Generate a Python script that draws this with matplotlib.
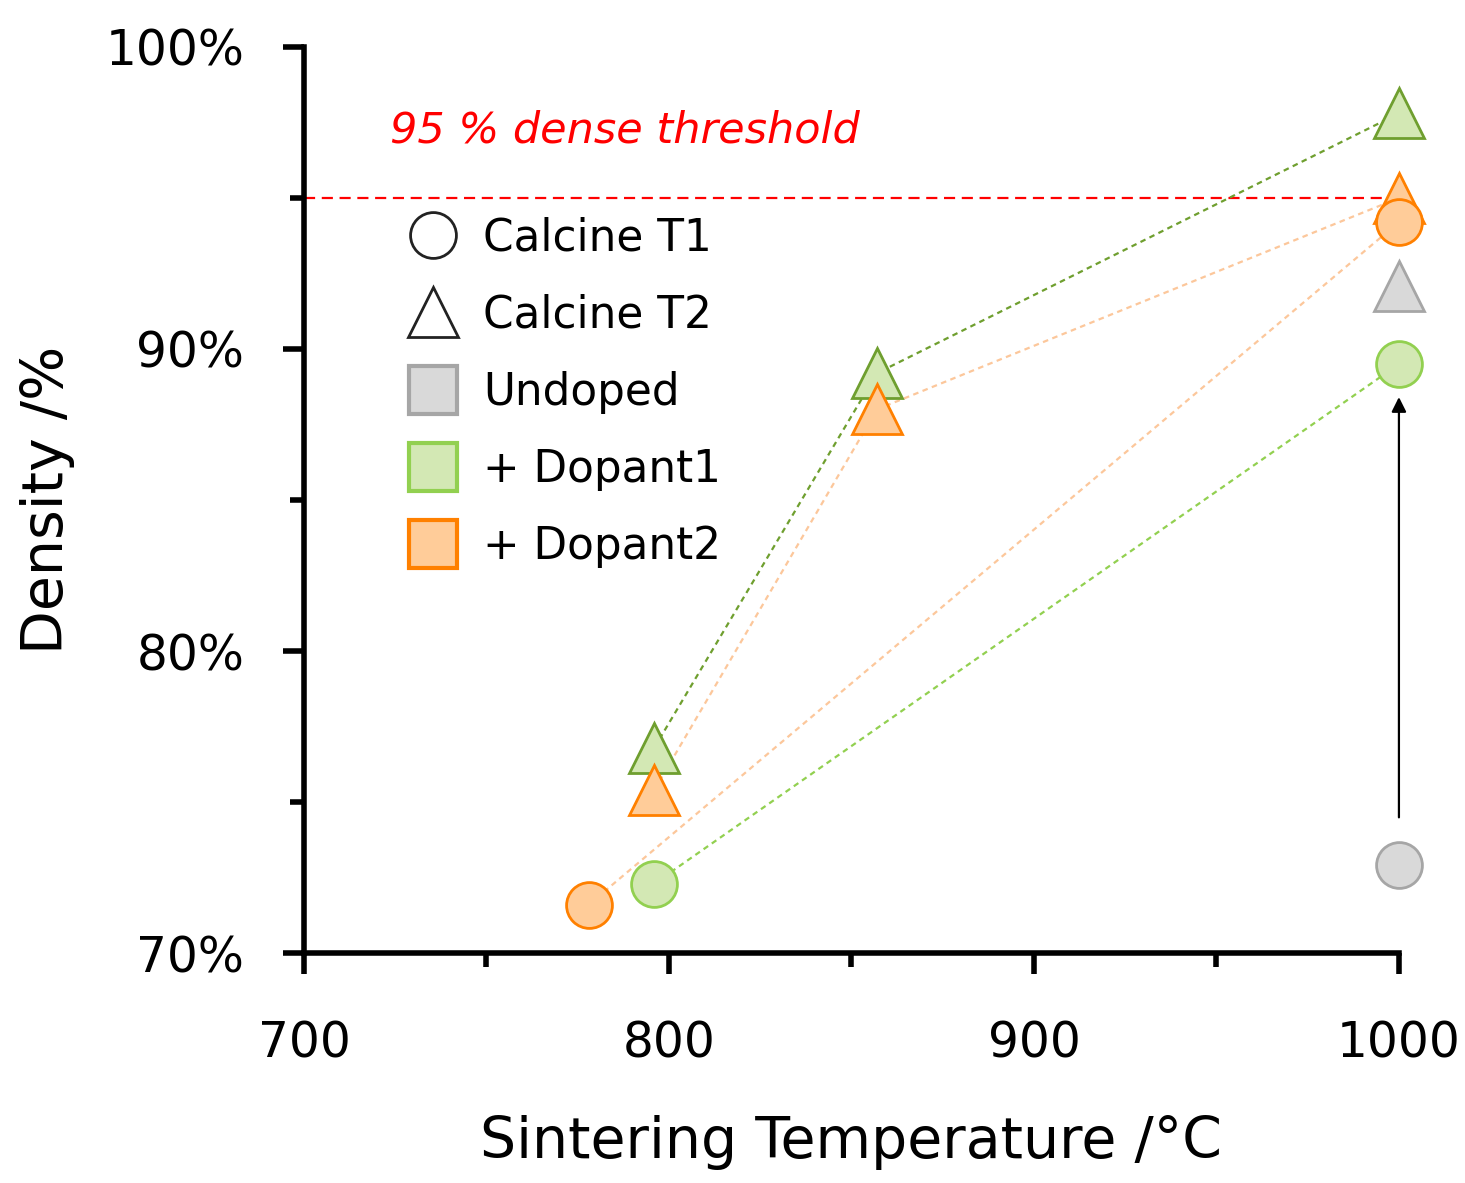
import matplotlib.pyplot as plt
from matplotlib.lines import Line2D
from matplotlib.ticker import MultipleLocator, PercentFormatter

plt.rcParams['font.family'] = ['DejaVu Sans']

# data: sintering temperature (C) vs density (%)
t1_undoped_temp = [1000]
t1_undoped_dens = [72.9]
t1_dop1_temp = [796, 1000]
t1_dop1_dens = [72.3, 89.5]
t1_dop2_temp = [778, 1000]
t1_dop2_dens = [71.6, 94.2]

t2_undoped_temp = [1000]
t2_undoped_dens = [92.1]
t2_dop1_temp = [796, 857, 1000]
t2_dop1_dens = [76.8, 89.2, 97.8]
t2_dop2_temp = [796, 857, 1000]
t2_dop2_dens = [75.4, 88.0, 95.0]

threshold = 95
arrow_from = (1000, 74.4)
arrow_to = (1000, 88.5)

grey_fc, grey_ec = '#d9d9d9', '#a6a6a6'
g_fc, g_ec, g_ec2 = '#d3e8b4', '#92d050', '#6f9f2f'
o_fc, o_ec = '#ffcc99', '#ff8000'

fig = plt.figure(figsize=(14.65, 11.83), dpi=100)
ax = fig.add_axes([0.2075, 0.1944, 0.7474, 0.7659])

dash = (0, (2.5, 2))
# connecting lines
ax.plot(t2_dop1_temp, t2_dop1_dens, color=g_ec2, lw=1.6, ls=dash, zorder=2)
ax.plot(t2_dop2_temp, t2_dop2_dens, color='#fcc79b', lw=1.6, ls=dash, zorder=2)
ax.plot(t1_dop1_temp, t1_dop1_dens, color=g_ec, lw=1.6, ls=dash, zorder=2)
ax.plot(t1_dop2_temp, t1_dop2_dens, color='#fcc79b', lw=1.6, ls=dash, zorder=2)

ax.axhline(threshold, color='red', lw=1.6, ls=(0, (5, 3)), zorder=1)
ax.text(723.5, 97.25, '95 % dense threshold', color='red', style='italic',
        fontsize=31, va='center', ha='left')

ax.annotate('', xy=arrow_to, xytext=arrow_from,
            arrowprops=dict(arrowstyle='-|>', color='black', lw=1.6,
                            mutation_scale=22), zorder=3)

ms_c, ms_t = 33, 36
kw = dict(ls='none', mew=2, clip_on=False)
ax.plot(t2_undoped_temp, t2_undoped_dens, '^', ms=ms_t, mfc=grey_fc, mec=grey_ec, zorder=4, **kw)
ax.plot(t2_dop1_temp, t2_dop1_dens, '^', ms=ms_t, mfc=g_fc, mec=g_ec2, zorder=4, **kw)
ax.plot(t2_dop2_temp, t2_dop2_dens, '^', ms=ms_t, mfc=o_fc, mec=o_ec, zorder=4, **kw)
ax.plot(t1_undoped_temp, t1_undoped_dens, 'o', ms=ms_c, mfc=grey_fc, mec=grey_ec, zorder=5, **kw)
ax.plot(t1_dop1_temp, t1_dop1_dens, 'o', ms=ms_c, mfc=g_fc, mec=g_ec, zorder=5, **kw)
ax.plot(t1_dop2_temp, t1_dop2_dens, 'o', ms=ms_c, mfc=o_fc, mec=o_ec, zorder=5, **kw)

handles = [
    Line2D([], [], marker='o', ls='none', ms=33, mfc='white', mec='#222222', mew=2),
    Line2D([], [], marker='^', ls='none', ms=36, mfc='white', mec='#222222', mew=2),
    Line2D([], [], marker='s', ls='none', ms=35, mfc=grey_fc, mec=grey_ec, mew=3),
    Line2D([], [], marker='s', ls='none', ms=35, mfc=g_fc, mec=g_ec, mew=3),
    Line2D([], [], marker='s', ls='none', ms=35, mfc=o_fc, mec=o_ec, mew=3),
]
labels = ['Calcine T1', 'Calcine T2', 'Undoped', '+ Dopant1', '+ Dopant2']
ax.legend(handles, labels, loc='upper left', bbox_to_anchor=(0.062, 0.832),
          frameon=False, fontsize=31.5, labelspacing=0.78, handletextpad=0.15,
          borderaxespad=0)

ax.set_xlim(700, 1000)
ax.set_ylim(70, 100)
ax.xaxis.set_major_locator(MultipleLocator(100))
ax.xaxis.set_minor_locator(MultipleLocator(50))
ax.yaxis.set_major_locator(MultipleLocator(10))
ax.yaxis.set_minor_locator(MultipleLocator(5))
ax.yaxis.set_major_formatter(PercentFormatter(decimals=0))

for s in ['top', 'right']:
    ax.spines[s].set_visible(False)
for s in ['left', 'bottom']:
    ax.spines[s].set_linewidth(4)
ax.tick_params(which='major', length=15, width=4, labelsize=35)
ax.tick_params(which='minor', length=10, width=4)
ax.tick_params(axis='y', which='major', pad=28)
ax.tick_params(axis='x', which='major', pad=33)

ax.set_xlabel('Sintering Temperature /°C', fontsize=41, labelpad=34)
ax.set_ylabel('Density /%', fontsize=41, labelpad=22)

fig.savefig('out.png', dpi=100)
